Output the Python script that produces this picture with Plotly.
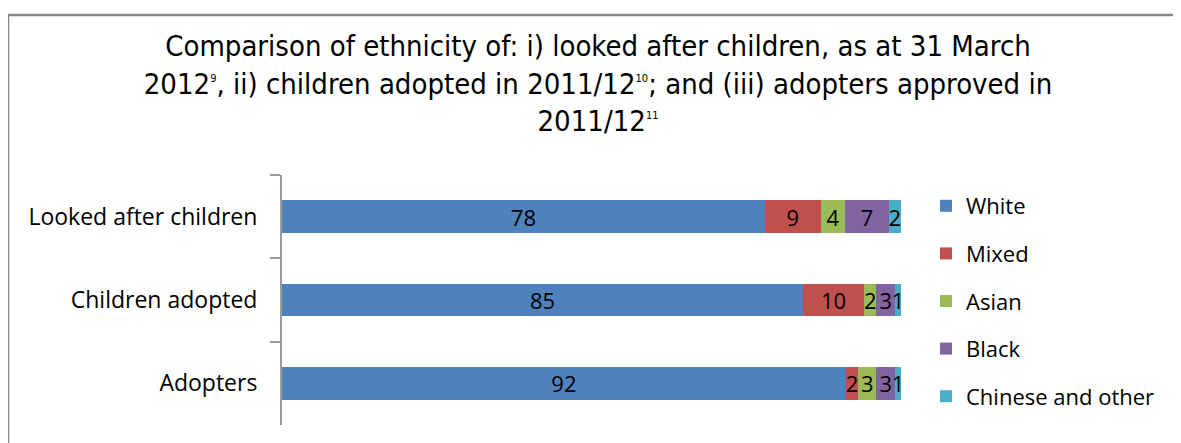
import plotly.graph_objects as go

categories = ["Looked after children", "Children adopted", "Adopters"]
series_names = ["White", "Mixed", "Asian", "Black", "Chinese and other"]
white = [78, 85, 92]
mixed = [9, 10, 2]
asian = [4, 2, 3]
black = [7, 3, 3]
chinese_other = [2, 1, 1]
colors = ["#4F81BD", "#C0504D", "#9BBB59", "#8064A2", "#4BACC6"]

series_values = [white, mixed, asian, black, chinese_other]

OFF = 8  # page offset of the figure (body margin)
W, H = 1181, 443
L, R = 282 - OFF, 901 - OFF
T, B = 175 - OFF, 425 - OFF
FONT = "Open Sans"

fig = go.Figure()
for i, (name, vals, col) in enumerate(zip(series_names, series_values, colors)):
    fig.add_trace(go.Bar(
        y=categories, x=vals, name=name, orientation="h",
        marker=dict(color=col, line=dict(width=0)),
        text=[str(v) for v in vals], textposition="inside",
        insidetextanchor="middle", textangle=0,
        textfont=dict(color="black", size=22, family=FONT),
        constraintext="none",
        legendgroup=name,
    ))

def px_to_paper_x(px):
    return (px - OFF - L) / (R - L)

def px_to_paper_y(py):
    return (B - (py - OFF)) / (B - T)

sup = lambda s: "<sup><span style='font-size:11px'>%s</span></sup>" % s

fig.update_layout(
    width=W, height=H,
    barmode="stack", barnorm="percent",
    bargap=0.61,
    margin=dict(l=L, r=W - R, t=T, b=H - B, pad=0),
    paper_bgcolor="white", plot_bgcolor="white",
    uniformtext=dict(minsize=22, mode="show"),
    title=dict(
        text="Comparison of ethnicity of: i) looked after children, as at 31 March<br>"
             "2012" + sup("9") + ", ii) children adopted in 2011/12" + sup("10")
             + "; and (iii) adopters approved in<br>"
             "2011/12" + sup("11"),
        x=(598 - OFF) / W, xanchor="center", y=1 - (56 - OFF) / H, yanchor="top",
        font=dict(family="Liberation Sans Narrow, DejaVu Sans Condensed, sans-serif", size=29, color="black"),
    ),
    xaxis=dict(range=[0, 100], visible=False, showgrid=False, zeroline=False),
    yaxis=dict(
        autorange="reversed", showline=True, linecolor="#9a9a9a", linewidth=2,
        ticks="outside", ticklen=10, tickcolor="#9a9a9a", tickwidth=2,
        tickson="boundaries", showgrid=False,
        tickfont=dict(family=FONT, size=23, color="black"),
        ticklabelstandoff=18,
    ),
    legend=dict(
        x=px_to_paper_x(926), xanchor="left",
        y=px_to_paper_y(185), yanchor="top",
        font=dict(family=FONT, size=22, color="black"),
        tracegroupgap=16, traceorder="grouped",
        bgcolor="rgba(0,0,0,0)",
    ),
    showlegend=True,
    shapes=[dict(
        type="rect", xref="paper", yref="paper",
        x0=px_to_paper_x(8), x1=px_to_paper_x(1200),
        y0=px_to_paper_y(460), y1=px_to_paper_y(15),
        line=dict(color="#878787", width=2.5), fillcolor="rgba(0,0,0,0)",
        layer="below",
    )],
)

fig.write_html("out.html")
